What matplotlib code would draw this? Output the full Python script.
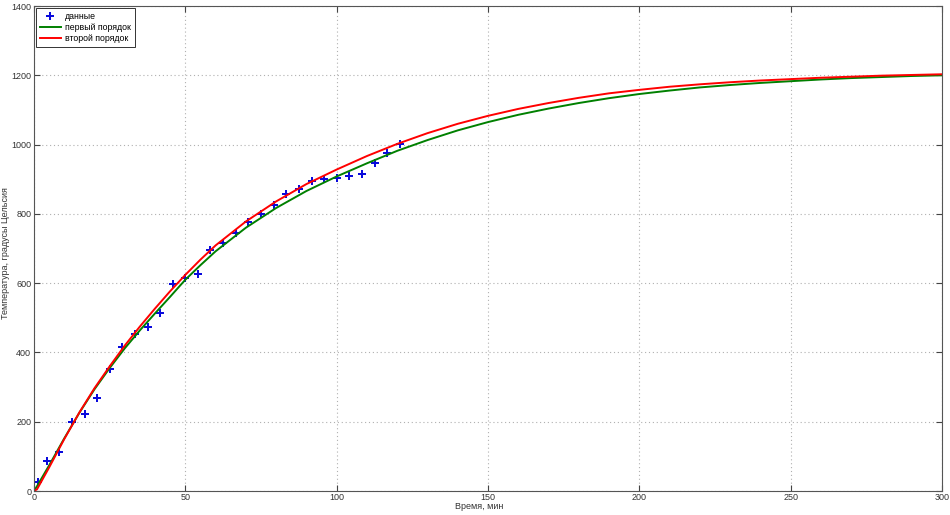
import matplotlib
matplotlib.use("Agg")
import matplotlib.pyplot as plt

# measured points
data_t = [0.0, 1.2, 4.2, 8.3, 12.5, 16.7, 20.8, 25.0, 29.2, 33.3, 37.5, 41.7, 45.8, 50.0, 54.2, 58.3,
          62.5, 66.7, 70.8, 75.0, 79.2, 83.3, 87.5, 91.7, 95.8, 100.0, 104.2, 108.3, 112.5, 116.7, 120.8]
data_temp = [25, 25, 86, 112, 200, 222, 268, 353, 417, 452, 474, 514, 597, 616, 627, 696,
             715, 744, 776, 800, 825, 857, 873, 896, 901, 903, 909, 916, 946, 976, 1001]

# model curves
curve_t = [0, 1, 5, 10, 15, 20, 25, 30, 35, 40, 45, 50, 55, 60, 70, 80, 90, 100, 110, 120, 130, 140,
           150, 160, 170, 180, 190, 200, 210, 220, 230, 240, 250, 260, 270, 280, 290, 300]
first_order = [0, 14, 74, 152, 226, 294, 355, 412, 464, 513, 561, 610, 652, 692, 760, 817, 866, 908,
               946, 982, 1013, 1041, 1065, 1086, 1104, 1120, 1134, 1146, 1156, 1165, 1172, 1178,
               1183, 1188, 1192, 1195, 1198, 1200]
second_order = [0, 5, 68, 150, 227, 297, 360, 420, 475, 527, 577, 624, 668, 709, 778, 836, 886, 928,
                967, 1002, 1033, 1060, 1083, 1103, 1120, 1135, 1148, 1158, 1167, 1174, 1180, 1185,
                1189, 1193, 1196, 1199, 1201, 1203]

x_ticks = [0, 50, 100, 150, 200, 250, 300]
y_ticks = [0, 200, 400, 600, 800, 1000, 1200, 1400]

plt.rcParams["font.family"] = ["Liberation Sans", "DejaVu Sans"]
plt.rcParams["font.size"] = 6.5

fig = plt.figure(figsize=(9.5, 5.15), dpi=100)
ax = fig.add_axes([0.0358, 0.0466, 0.9558, 0.9417])

ax.plot(data_t, data_temp, linestyle="none", marker="P", markersize=6,
        color="#0a0adc", markeredgewidth=0, label="данные")
ax.plot(curve_t, first_order, color="#008000", linewidth=1.4, label="первый порядок")
ax.plot(curve_t, second_order, color="#ff0000", linewidth=1.4, label="второй порядок")

ax.set_xlim(0, 300)
ax.set_ylim(0, 1400)
ax.set_xticks(x_ticks)
ax.set_yticks(y_ticks)
ax.tick_params(direction="in", top=True, right=True, length=4, width=0.8,
               colors="#444444", labelcolor="#333333", pad=2)
ax.tick_params(axis="x", pad=1.5)
for sp in ax.spines.values():
    sp.set_color("#555555")
    sp.set_linewidth(0.8)
ax.grid(True, linestyle=(0, (1, 2.5)), color="#b0b0b0", linewidth=0.8)

ax.set_xlabel("Время, мин", color="#333333")
ax.set_ylabel("Температура, градусы Цельсия", color="#333333")
ax.xaxis.set_label_coords(0.49, -0.0235)
ax.yaxis.set_label_coords(-0.0262, 0.49)

leg = ax.legend(loc="upper left", fancybox=False, edgecolor="#333333", framealpha=1,
                fontsize=6.3, handlelength=2.4, handletextpad=0.5, borderpad=0.45,
                labelspacing=0.25, borderaxespad=0.2)
leg.get_frame().set_linewidth(0.7)

fig.savefig("out.png", dpi=100)
